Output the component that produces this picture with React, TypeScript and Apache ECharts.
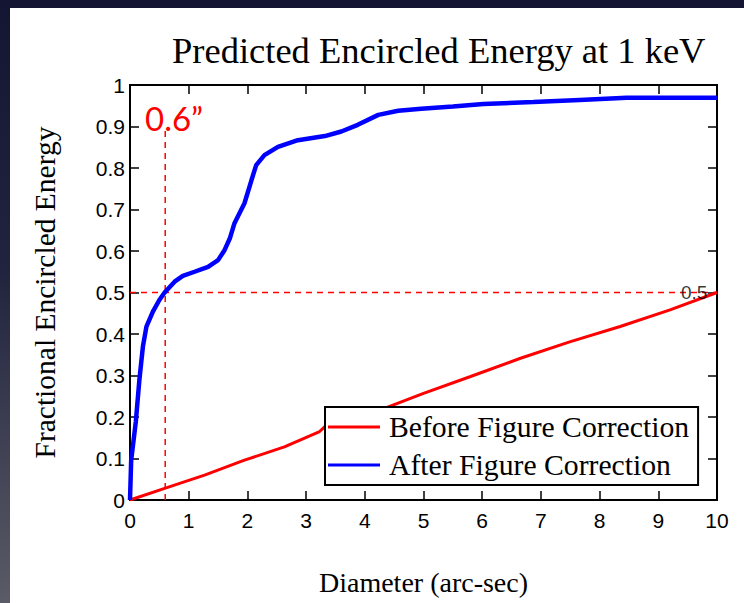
import React, { useEffect, useRef } from "react";
import * as echarts from "echarts";

// Before Figure Correction (red)
const beforeX = [0, 0.59, 1.27, 1.95, 2.63, 3.23, 3.32, 4.34, 4.39, 5.0, 5.79, 6.64, 7.49, 8.35, 9.2, 10];
const beforeY = [0, 0.028, 0.06, 0.096, 0.128, 0.165, 0.177, 0.217, 0.224, 0.257, 0.297, 0.341, 0.381, 0.418, 0.458, 0.5];

// After Figure Correction (blue)
const afterX = [0, 0.02, 0.1, 0.16, 0.22, 0.28, 0.39, 0.5, 0.59, 0.76, 0.9, 1.1, 1.33, 1.5, 1.61, 1.7, 1.78, 1.95, 2.07, 2.15, 2.29, 2.52, 2.86, 3.32, 3.6, 3.88, 4.23, 4.57, 4.96, 5.5, 6.02, 6.87, 7.66, 8.46, 10];
const afterY = [0, 0.096, 0.19, 0.29, 0.37, 0.418, 0.454, 0.482, 0.5, 0.526, 0.54, 0.55, 0.562, 0.578, 0.602, 0.63, 0.667, 0.715, 0.771, 0.807, 0.831, 0.851, 0.867, 0.877, 0.888, 0.904, 0.928, 0.938, 0.943, 0.948, 0.954, 0.959, 0.964, 0.969, 0.969];

// Guides
const guideEnergy = 0.5;
const guideDiameter = 0.6;
const guideTop = 0.9;
const guideLabelX = 9.61;
const guideLabel = "0.5";
const annotation = "0.6\u201D";

const xMin = 0;
const xMax = 10;
const xStep = 1;
const yMin = 0;
const yMax = 1;
const yStep = 0.1;

const titleText = "Predicted Encircled Energy at 1 keV";
const xName = "Diameter (arc-sec)";
const yName = "Fractional Encircled Energy";
const seriesNames = ["Before Figure Correction", "After Figure Correction"];

export default function App() {
  const ref = useRef<HTMLDivElement>(null);

  useEffect(() => {
    document.body.style.margin = "0";
    const chart = echarts.init(ref.current!, null, { renderer: "svg" });
    const serif = "'Liberation Serif', 'Times New Roman', serif";
    const sans = "'Liberation Sans', Arial, sans-serif";
    const pair = (xs: number[], ys: number[]) => xs.map((x, i) => [x, ys[i]]);
    const yFmt = (v: number) => {
      const s = v.toFixed(1);
      return s.endsWith(".0") ? s.slice(0, -2) : s;
    };
    const baseAxisLine = { show: true, onZero: false, lineStyle: { color: "#000", width: 2 } };
    const baseTick = { show: true, inside: true, length: 9, lineStyle: { color: "#000", width: 1.5 } };

    const option: any = {
      animation: false,
      backgroundColor: "transparent",
      title: {
        text: titleText,
        left: 167,
        top: 27,
        textStyle: { fontFamily: serif, fontSize: 36.5, fontWeight: "normal", color: "#000" },
      },
      grid: {
        left: 130,
        top: 85,
        width: 587,
        height: 415,
        show: true,
        borderColor: "#000",
        borderWidth: 2,
        backgroundColor: "transparent",
      },
      legend: {
        data: seriesNames.map((n) => ({ name: n, icon: "rect" })),
        orient: "vertical",
        left: 325,
        top: 407,
        itemWidth: 52,
        itemHeight: 3,
        itemGap: 8,
        padding: [5, 9, 5, 3],
        borderColor: "#000",
        borderWidth: 2,
        backgroundColor: "#fff",
        selectedMode: false,
        textStyle: { fontFamily: serif, fontSize: 29.7, color: "#000", padding: [0, 0, 0, 4] },
      },
      xAxis: [
        {
          type: "value",
          min: xMin,
          max: xMax,
          interval: xStep,
          name: xName,
          nameLocation: "middle",
          nameGap: 68,
          nameTextStyle: { fontFamily: serif, fontSize: 28, color: "#000" },
          axisLine: baseAxisLine,
          axisTick: baseTick,
          axisLabel: { fontFamily: sans, fontSize: 21, color: "#000", margin: 10 },
          splitLine: { show: false },
        },
        {
          type: "value",
          position: "top",
          min: xMin,
          max: xMax,
          interval: xStep,
          axisLine: baseAxisLine,
          axisTick: baseTick,
          axisLabel: { show: false },
          splitLine: { show: false },
        },
      ],
      yAxis: [
        {
          type: "value",
          min: yMin,
          max: yMax,
          interval: yStep,
          name: yName,
          nameLocation: "middle",
          nameGap: 70,
          nameTextStyle: { fontFamily: serif, fontSize: 29.5, color: "#000" },
          axisLine: baseAxisLine,
          axisTick: baseTick,
          axisLabel: { fontFamily: sans, fontSize: 21, color: "#000", margin: 5, formatter: yFmt },
          splitLine: { show: false },
        },
        {
          type: "value",
          position: "right",
          min: yMin,
          max: yMax,
          interval: yStep,
          axisLine: baseAxisLine,
          axisTick: baseTick,
          axisLabel: { show: false },
          splitLine: { show: false },
        },
      ],
      series: [
        {
          name: "guideH",
          type: "line",
          symbol: "none",
          silent: true,
          data: [
            [xMin, guideEnergy],
            [xMax, guideEnergy],
          ],
          lineStyle: { color: "#ff0000", width: 1.5, type: [6, 5] },
          z: 1,
        },
        {
          name: "guideV",
          type: "line",
          symbol: "none",
          silent: true,
          data: [
            [guideDiameter, yMin],
            [guideDiameter, guideTop],
          ],
          lineStyle: { color: "#ff0000", width: 1.5, type: [6, 5] },
          z: 1,
        },
        {
          name: seriesNames[0],
          type: "line",
          symbol: "none",
          data: pair(beforeX, beforeY),
          color: "#ff0000",
          lineStyle: { color: "#ff0000", width: 3 },
          z: 2,
        },
        {
          name: seriesNames[1],
          type: "line",
          symbol: "none",
          data: pair(afterX, afterY),
          color: "#0000ff",
          lineStyle: { color: "#0000ff", width: 4.5 },
          z: 3,
        },
        {
          name: "guideLabel",
          type: "scatter",
          silent: true,
          symbolSize: 1,
          itemStyle: { color: "rgba(0,0,0,0)" },
          data: [[guideLabelX, guideEnergy]],
          label: {
            show: true,
            position: "inside",
            formatter: guideLabel,
            fontFamily: sans,
            fontSize: 19,
            color: "#000",
            textBorderWidth: 0,
          },
          z: 4,
        },
      ],
      graphic: [
        {
          type: "text",
          left: 145,
          top: 101,
          z: 10,
          style: {
            text: annotation,
            fill: "#ff0000",
            fontFamily: "Lato, 'Open Sans', sans-serif",
            fontSize: 33,
          },
        },
      ],
    };
    chart.setOption(option);
    return () => chart.dispose();
  }, []);

  return (
    <div
      style={{
        position: "relative",
        width: 744,
        height: 603,
        background: "linear-gradient(to bottom, #131532 0%, #22243f 45%, #5a5b66 100%)",
        overflow: "hidden",
      }}
    >
      <div style={{ position: "absolute", left: 10, top: 8, width: 734, height: 595, background: "#fff" }} />
      <div ref={ref} style={{ position: "absolute", left: 0, top: 0, width: 744, height: 603 }} />
    </div>
  );
}
